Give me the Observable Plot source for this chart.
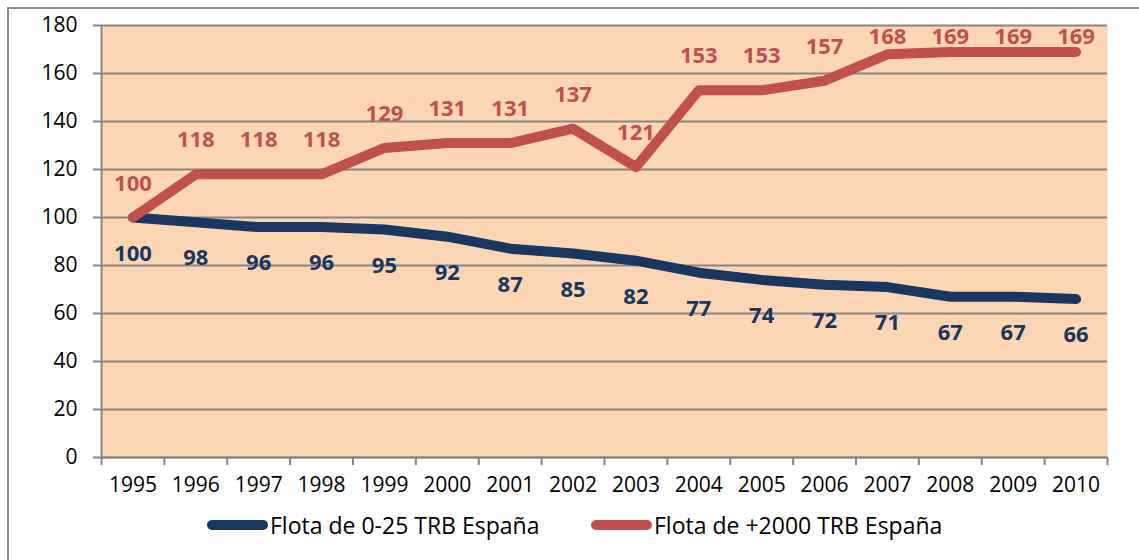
<!DOCTYPE html>
<html>
<head>
<meta charset="utf-8">
<script src="https://cdn.jsdelivr.net/npm/d3@7"></script>
<script src="https://cdn.jsdelivr.net/npm/@observablehq/plot@0.6"></script>
<style>
  body { margin: 0; background: #fff; font-family: "Open Sans", sans-serif; }
  #page { position: relative; width: 1139px; height: 560px; overflow: hidden; }
  #border { position: absolute; left: 7px; top: 7px; width: 1200px; height: 600px;
            border-left: 2px solid #8c8c8c; border-top: 2px solid #8c8c8c; }
  #chart { position: absolute; left: 0; top: 0; }
  .item { position: absolute; top: 510px; height: 30px; display: flex; align-items: center;
          font-size: 23px; color: #000; white-space: nowrap; }
  .sw { width: 61px; height: 10px; border-radius: 5px; margin-right: 2px; }
</style>
</head>
<body>
<div id="page">
  <div id="border"></div>
  <div id="chart"></div>
  <div id="legend"></div>
</div>
<script>
const years = [1995,1996,1997,1998,1999,2000,2001,2002,2003,2004,2005,2006,2007,2008,2009,2010];
const small = [100,98,96,96,95,92,87,85,82,77,74,72,71,67,67,66];
const large = [100,118,118,118,129,131,131,137,121,153,153,157,168,169,169,169];
const yTicks = [0,20,40,60,80,100,120,140,160,180];
const seriesNames = ["Flota de 0-25 TRB España", "Flota de +2000 TRB España"];
const colors = ["#17375E", "#C0504D"];

const smallData = years.map((y, i) => ({year: y, value: small[i]}));
const largeData = years.map((y, i) => ({year: y, value: large[i]}));
const boundaries = [...years.map(y => y - 0.5), years[years.length - 1] + 0.5];

const plot = Plot.plot({
  width: 1139,
  height: 505,
  marginLeft: 101,
  marginRight: 32,
  marginTop: 25,
  marginBottom: 48,
  style: { fontFamily: "Open Sans, sans-serif", fontSize: "21px", color: "#000", background: "transparent" },
  x: { domain: [1994.5, 2010.5] },
  y: { domain: [0, 180] },
  marks: [
    Plot.frame({ fill: "#FCD5B5", stroke: null }),
    Plot.gridY(yTicks, { stroke: "#868686", strokeOpacity: 1, strokeWidth: 2 }),
    Plot.ruleX([1994.5], { stroke: "#868686", strokeWidth: 2 }),
    Plot.ruleY([0], { stroke: "#868686", strokeWidth: 2 }),
    Plot.axisY(yTicks, { tickSize: 8, tickPadding: 16, stroke: "#868686", strokeWidth: 2, fill: "#000", label: null, fontSize: 21 }),
    Plot.axisX(boundaries, { tickSize: 8, tickFormat: () => "", stroke: "#868686", strokeWidth: 2, label: null }),
    Plot.axisX(years, { tickSize: 0, tickPadding: 20, tickFormat: d => String(d), fill: "#000", label: null, fontSize: 21 }),
    Plot.line(smallData, { x: "year", y: "value", stroke: colors[0], strokeWidth: 10, strokeLinecap: "round", strokeLinejoin: "round" }),
    Plot.line(largeData, { x: "year", y: "value", stroke: colors[1], strokeWidth: 10, strokeLinecap: "round", strokeLinejoin: "round" }),
    Plot.text(smallData, { x: "year", y: "value", text: d => String(d.value), dy: 36, fill: colors[0], fontWeight: "bold", fontSize: 22 }),
    // labels above the red line are kept inside the plot area (as the original does near the top)
    Plot.text(largeData, { x: "year", y: d => Math.min(d.value, 161), text: d => String(d.value), dy: -34, fill: colors[1], fontWeight: "bold", fontSize: 22 })
  ]
});
document.getElementById("chart").appendChild(plot);

const legend = document.getElementById("legend");
const lefts = [207, 591];
seriesNames.forEach((name, i) => {
  const item = document.createElement("div");
  item.className = "item";
  item.style.left = lefts[i] + "px";
  const sw = document.createElement("div");
  sw.className = "sw";
  sw.style.background = colors[i];
  const t = document.createElement("span");
  t.textContent = name;
  item.appendChild(sw);
  item.appendChild(t);
  legend.appendChild(item);
});
</script>
</body>
</html>
